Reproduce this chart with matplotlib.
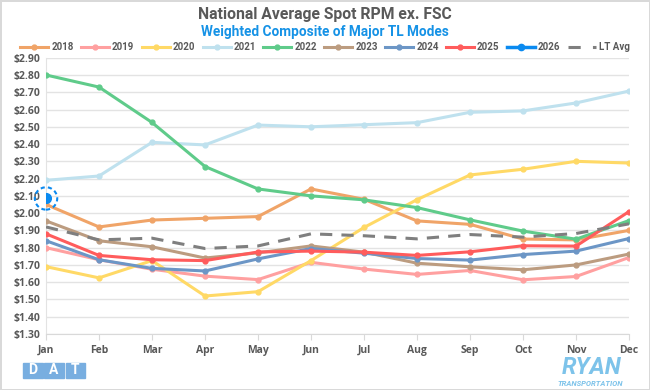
import matplotlib.pyplot as plt
from matplotlib.lines import Line2D
from matplotlib.patches import Rectangle

plt.rcParams['font.family'] = ['Open Sans', 'DejaVu Sans']

months = ["Jan", "Feb", "Mar", "Apr", "May", "Jun", "Jul", "Aug", "Sep", "Oct", "Nov", "Dec"]

y2018 = [2.05, 1.92, 1.96, 1.97, 1.98, 2.14, 2.08, 1.955, 1.935, 1.85, 1.845, 1.90]
y2019 = [1.80, 1.73, 1.675, 1.635, 1.615, 1.715, 1.676, 1.645, 1.668, 1.614, 1.633, 1.743]
y2020 = [1.69, 1.625, 1.725, 1.52, 1.545, 1.725, 1.917, 2.078, 2.221, 2.254, 2.30, 2.29]
y2021 = [2.19, 2.215, 2.41, 2.395, 2.51, 2.50, 2.512, 2.524, 2.584, 2.592, 2.638, 2.707]
y2022 = [2.80, 2.73, 2.525, 2.27, 2.14, 2.10, 2.077, 2.032, 1.961, 1.896, 1.849, 1.957]
y2023 = [1.955, 1.84, 1.805, 1.74, 1.77, 1.81, 1.774, 1.71, 1.689, 1.672, 1.70, 1.763]
y2024 = [1.84, 1.73, 1.68, 1.665, 1.735, 1.795, 1.768, 1.737, 1.728, 1.76, 1.78, 1.853]
y2025 = [1.88, 1.755, 1.73, 1.725, 1.775, 1.78, 1.774, 1.755, 1.776, 1.811, 1.809, 2.009]
y2026 = [2.085]
lt_avg = [1.92, 1.845, 1.855, 1.795, 1.81, 1.88, 1.869, 1.851, 1.876, 1.861, 1.882, 1.938]

series = [
    ("2018", y2018, "#F0A468"),
    ("2019", y2019, "#FFA0A0"),
    ("2020", y2020, "#FFD966"),
    ("2021", y2021, "#BFE1EE"),
    ("2022", y2022, "#5FCB8A"),
    ("2023", y2023, "#BC9C80"),
    ("2024", y2024, "#6C96C6"),
    ("2025", y2025, "#FF5C5C"),
]

fig = plt.figure(figsize=(6.5, 3.9), dpi=100)
fig.patch.set_edgecolor("#d9d9d9")
fig.patch.set_linewidth(2)
ax = fig.add_axes([0.0708, 0.1436, 0.8969, 0.7084])


def fit_width(txt, px):
    # scale a text's font size so it spans about px pixels
    fig.canvas.draw()
    w = txt.get_window_extent().width
    txt.set_fontsize(txt.get_fontsize() * px / w)


x = list(range(12))
handles = []
for name, vals, col in series:
    ax.plot(x[:len(vals)], vals, color=col, lw=2.2, marker="o", ms=3.5, zorder=3)
    handles.append(Line2D([], [], color=col, lw=2.2, marker="o", ms=3.5, label=name))

ax.plot(x, lt_avg, color="#7f7f7f", lw=2.2, ls=(0, (4, 3)), zorder=3)

blue = "#0A8AF0"
ax.plot(x[:1], y2026, color=blue, marker="o", ms=7, lw=2.5, zorder=5)
ax.scatter(x[:1], y2026, s=260, facecolors="none", edgecolors=blue,
           linewidths=1.5, linestyle=(0, (2, 1.5)), zorder=5, clip_on=False)
handles.append(Line2D([], [], color=blue, lw=2.5, marker="o", ms=4.5, label="2026"))
handles.append(Line2D([], [], color="#7f7f7f", lw=2.2, ls=(0, (4, 4)), label="LT Avg"))

ax.set_xlim(0, 11)
ax.set_ylim(1.30, 2.90)
ax.set_xticks(x)
ax.set_xticklabels(months)
ticks = [1.30 + 0.1 * i for i in range(17)]
ax.set_yticks(ticks)
ax.set_yticklabels(["${:.2f}".format(t) for t in ticks])
for lab in ax.get_xticklabels() + ax.get_yticklabels():
    lab.set_fontweight("bold")
    lab.set_color("#595959")
    lab.set_fontsize(7.5)
ax.tick_params(axis="y", length=0, pad=4)
ax.tick_params(axis="x", length=4, color="#d9d9d9", pad=4)
ax.grid(axis="y", color="#e3e3e3", lw=1)
ax.set_axisbelow(True)
for s in ["top", "right"]:
    ax.spines[s].set_visible(False)
ax.spines["left"].set_color("#e3e3e3")
ax.spines["bottom"].set_color("#d9d9d9")

title = fig.text(0.5, 1 - 19 / 390, "National Average Spot RPM ex. FSC", ha="center",
                 va="baseline", fontsize=11, fontweight="bold", color="#595959",
                 family="Roboto")
fit_width(title, 255)
sub = fig.text(0.5, 1 - 36 / 390, "Weighted Composite of Major TL Modes", ha="center",
               va="baseline", fontsize=9, fontweight="bold", color="#1592E6",
               family="Roboto")
fit_width(sub, 247)

fig.legend(handles=handles, loc="center", bbox_to_anchor=(0.5, 1 - 47 / 390), ncol=10,
           frameon=False, prop={"size": 7, "weight": "bold", "family": "Roboto"},
           handlelength=2.9, handletextpad=0.3, columnspacing=0.75,
           labelcolor="#595959")

# DAT logo
for i, letter in enumerate("DAT"):
    x0 = 23 + i * 21.3
    fig.patches.append(Rectangle((x0 / 650, 1 - 378 / 390), 19.5 / 650, 15.5 / 390,
                                 transform=fig.transFigure, color="#78AEE0"))
    fig.text((x0 + 9.75) / 650, 1 - 370.5 / 390, letter, ha="center", va="center",
             fontsize=10, fontweight="bold", color="white", family="Roboto")

# RYAN logo
ryan = fig.text(592 / 650, 1 - 374 / 390, "RYAN", ha="center", va="baseline",
                fontsize=19, fontweight="bold", fontstyle="italic", color="#7DC3EA",
                family="Roboto")
fit_width(ryan, 60)
trans = fig.text(590 / 650, 1 - 386.5 / 390, "TRANSPORTATION", ha="center",
                 va="baseline", fontsize=6, fontweight="bold", fontstyle="italic",
                 color="#7DC3EA", family="Roboto")
fit_width(trans, 66)

fig.savefig("out.png", dpi=100)
